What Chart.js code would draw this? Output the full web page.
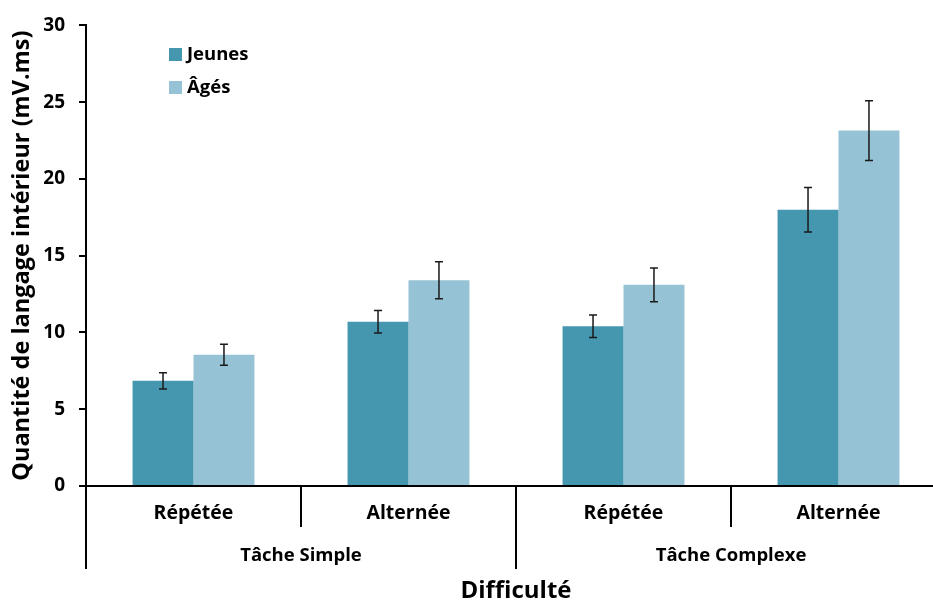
<!DOCTYPE html>
<html>
<head>
<meta charset="utf-8">
<script src="https://cdn.jsdelivr.net/npm/chart.js@4"></script>
<style>
  html, body { margin: 0; padding: 0; background: #fff; overflow: hidden; }
  #wrap { width: 960px; height: 601px; position: relative; }
</style>
</head>
<body>
<div id="wrap"><canvas id="chart"></canvas></div>
<script>
// data
const categories = ['Répétée', 'Alternée', 'Répétée', 'Alternée'];
const groups = ['Tâche Simple', 'Tâche Complexe'];
const jeunes = [6.85, 10.7, 10.4, 18.0];
const ages = [8.55, 13.4, 13.1, 23.15];
const jeunesErr = [0.53, 0.73, 0.73, 1.45];
const agesErr = [0.69, 1.2, 1.1, 1.95];
const yTicks = [0, 5, 10, 15, 20, 25, 30];

const FONT = '"Open Sans"';

// error bars on top of each bar
const errorBars = {
    id: 'errorBars',
    afterDatasetsDraw(chart) {
        const ctx = chart.ctx;
        const y = chart.scales.y;
        const errs = [jeunesErr, agesErr];
        ctx.save();
        ctx.strokeStyle = '#1a1a1a';
        ctx.lineWidth = 1.5;
        chart.data.datasets.forEach((ds, i) => {
            chart.getDatasetMeta(i).data.forEach((bar, j) => {
                const v = ds.data[j], e = errs[i][j];
                const top = y.getPixelForValue(v + e);
                const bot = y.getPixelForValue(v - e);
                ctx.beginPath();
                ctx.moveTo(bar.x, top); ctx.lineTo(bar.x, bot);
                ctx.moveTo(bar.x - 4, top); ctx.lineTo(bar.x + 4, top);
                ctx.moveTo(bar.x - 4, bot); ctx.lineTo(bar.x + 4, bot);
                ctx.stroke();
            });
        });
        ctx.restore();
    }
};

// two level x axis + legend inside the plot
const groupAxis = {
    id: 'groupAxis',
    afterDraw(chart) {
        const ctx = chart.ctx;
        const x = chart.scales.x;
        const base = chart.chartArea.bottom;
        const half = (x.getPixelForValue(1) - x.getPixelForValue(0)) / 2;
        ctx.save();
        ctx.strokeStyle = '#000';
        ctx.lineWidth = 2;
        for (let k = 0; k <= categories.length; k++) {
            const px = Math.round((k < categories.length ? x.getPixelForValue(k) - half : x.getPixelForValue(k - 1) + half));
            const len = k % 2 === 0 ? 83 : 41;
            ctx.beginPath();
            ctx.moveTo(px, base);
            ctx.lineTo(px, base + len);
            ctx.stroke();
        }
        ctx.fillStyle = '#000';
        ctx.font = 'bold 18.5px ' + FONT;
        ctx.textAlign = 'center';
        ctx.textBaseline = 'middle';
        groups.forEach((g, i) => {
            const cx = (x.getPixelForValue(i * 2) + x.getPixelForValue(i * 2 + 1)) / 2;
            ctx.fillText(g, cx, base + 70);
        });

        // legend
        ctx.textAlign = 'left';
        chart.data.datasets.forEach((ds, i) => {
            const ly = 55 + i * 33;
            ctx.fillStyle = ds.backgroundColor;
            ctx.fillRect(169, ly - 7, 13, 13);
            ctx.fillStyle = '#000';
            ctx.fillText(ds.label, 187, ly);
        });
        ctx.restore();
    }
};

new Chart(document.getElementById('chart'), {
    type: 'bar',
    data: {
        labels: categories,
        datasets: [
            { label: 'Jeunes', data: jeunes, backgroundColor: '#4597b0' },
            { label: 'Âgés', data: ages, backgroundColor: '#95c3d5' }
        ]
    },
    options: {
        responsive: true,
        maintainAspectRatio: false,
        animation: false,
        layout: { padding: { top: 24, right: 14, left: 0, bottom: 0 } },
        datasets: { bar: { categoryPercentage: 0.567, barPercentage: 1.0 } },
        plugins: { legend: { display: false }, tooltip: { enabled: false } },
        scales: {
            x: {
                grid: { display: false, drawTicks: false },
                border: { display: true, color: '#000', width: 2 },
                ticks: { color: '#000', font: { family: FONT, size: 19.5, weight: 'bold' }, padding: 16, maxRotation: 0 },
                title: { display: true, text: 'Difficulté', color: '#000', font: { family: FONT, size: 24, weight: 'bold' }, padding: { top: 0, bottom: -5 } },
                afterFit(scale) { scale.height = 115; }
            },
            y: {
                min: 0, max: 30,
                afterBuildTicks(scale) { scale.ticks = yTicks.map(v => ({ value: v })); },
                grid: { display: true, drawOnChartArea: false, drawTicks: true, tickLength: 7, color: '#000', lineWidth: 2 },
                border: { display: true, color: '#000', width: 2 },
                ticks: { color: '#000', font: { family: FONT, size: 19, weight: 'bold' }, padding: 14 },
                title: { display: true, text: 'Quantité de langage intérieur (mV.ms)', color: '#000', font: { family: FONT, size: 23.5, weight: 'bold' }, padding: { top: 8, bottom: 0 } },
                afterFit(scale) { scale.width = 86; }
            }
        }
    },
    plugins: [errorBars, groupAxis]
});
</script>
</body>
</html>
